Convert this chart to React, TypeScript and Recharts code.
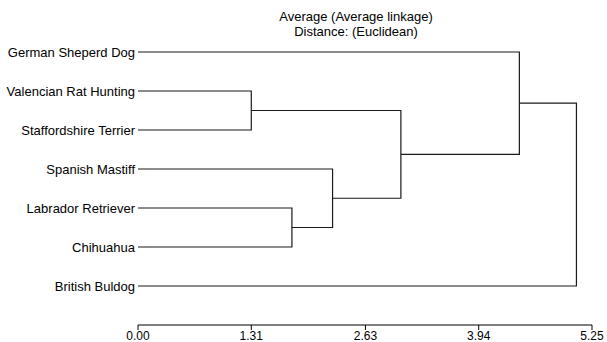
import React from 'react';
import { ComposedChart, Scatter, XAxis, YAxis } from 'recharts';

const leaves = [
  'German Sheperd Dog',
  'Valencian Rat Hunting',
  'Staffordshire Terrier',
  'Spanish Mastiff',
  'Labrador Retriever',
  'Chihuahua',
  'British Buldog',
];

// merges: node ids 0..6 are leaves, merge i creates node 7 + i
const mergeLeft = [1, 4, 3, 7, 0, 11];
const mergeRight = [2, 5, 8, 9, 10, 6];
const mergeHeight = [1.31, 1.78, 2.25, 3.04, 4.41, 5.07];

const xTicks = [0, 1.31, 2.63, 3.94, 5.25];
const titleLines = ['Average (Average linkage)', 'Distance: (Euclidean)'];

type Node = { y: number; h: number };

function buildLinks() {
  const nodes: Node[] = leaves.map((_, i) => ({ y: i, h: 0 }));
  const links: { x: number; y: number }[][] = [];
  mergeHeight.forEach((h, i) => {
    const a = nodes[mergeLeft[i]];
    const b = nodes[mergeRight[i]];
    links.push([
      { x: a.h, y: a.y },
      { x: h, y: a.y },
      { x: h, y: b.y },
      { x: b.h, y: b.y },
    ]);
    nodes.push({ y: (a.y + b.y) / 2, h });
  });
  return links;
}

const links = buildLinks();
const FONT = '"Liberation Sans", Arial, sans-serif';
const STROKE = '#1a1a1a';

const LeafTick = (props: any) => {
  const { x, y, payload } = props;
  return (
    <text x={x} y={y} dy="0.355em" textAnchor="end" fontSize={13} fill="#000" fontFamily={FONT}>
      {leaves[payload.value] ?? ''}
    </text>
  );
};

export default function App() {
  return (
    <div style={{ position: 'absolute', left: 0, top: 0, width: 607, height: 342, fontFamily: FONT, background: '#fff' }}>
      <div
        style={{
          position: 'absolute',
          left: 256,
          width: 200,
          top: 9,
          textAlign: 'center',
          fontSize: 13,
          lineHeight: '15px',
          color: '#000',
        }}
      >
        {titleLines.map((t) => (
          <div key={t}>{t}</div>
        ))}
      </div>
      <ComposedChart width={607} height={342} margin={{ top: 13, right: 15, bottom: 0, left: 0 }}>
        <XAxis
          type="number"
          dataKey="x"
          domain={[0, 5.25]}
          ticks={xTicks}
          tickFormatter={(v: number) => v.toFixed(2)}
          height={17}
          tickSize={5}
          tickMargin={1}
          stroke="#000"
          tick={{ fontSize: 12, fill: '#000', fontFamily: FONT }}
          allowDataOverflow
        />
        <YAxis
          type="number"
          dataKey="y"
          domain={[-1, 7]}
          reversed
          ticks={[0, 1, 2, 3, 4, 5, 6]}
          width={138}
          axisLine={false}
          tickLine={false}
          tickSize={0}
          tickMargin={3}
          tick={LeafTick}
          interval={0}
          allowDataOverflow
        />
        {links.map((pts, i) => (
          <Scatter
            key={i}
            data={pts}
            line={{ stroke: STROKE, strokeWidth: 1.2 }}
            shape={() => <g />}
            isAnimationActive={false}
          />
        ))}
      </ComposedChart>
    </div>
  );
}
